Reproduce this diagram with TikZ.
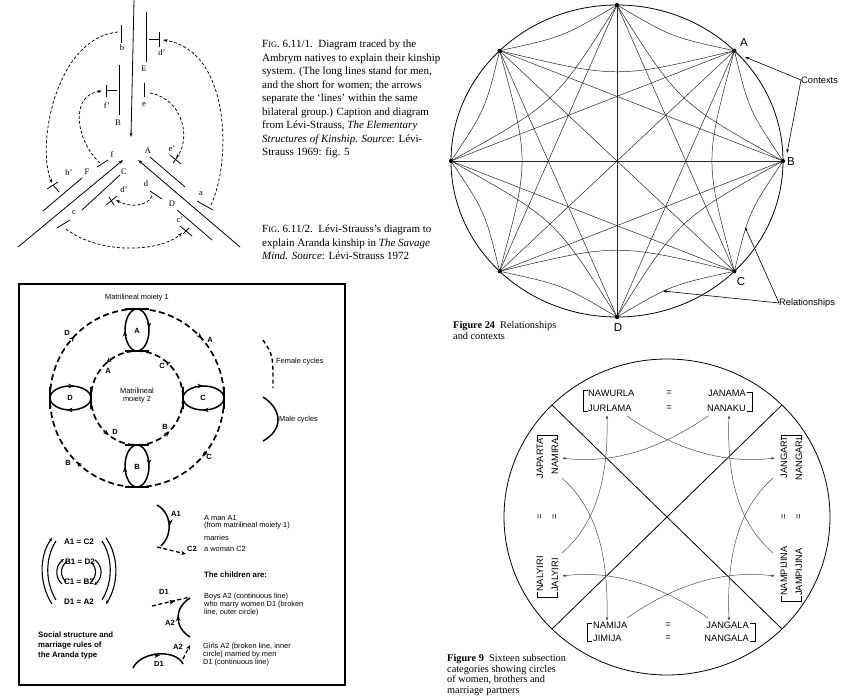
\documentclass[tikz,border=0pt]{standalone}
\usepackage{fontspec}
\setmainfont{Liberation Serif}
\setsansfont{Liberation Sans}
\usetikzlibrary{arrows.meta,calc}
\newcommand{\mycapfont}{\fontsize{11}{13.5}\selectfont}
\newcommand{\mysc}[1]{{\fontsize{8.4}{8}\selectfont #1}}
\begin{document}
\begin{tikzpicture}[x=1pt,y=-1pt,
  amb/.style={line width=0.8pt},
  ambd/.style={line width=0.75pt,dash pattern=on 3pt off 2pt},
  ambtip/.style={-{Stealth[length=4.5pt,width=3pt]}},
  amblab/.style={font=\fontsize{8.5}{9}\selectfont,inner sep=0pt},
  capline/.style={anchor=base west,inner sep=0pt,font=\mycapfont},
  starln/.style={line width=0.5pt,draw=black!85},
  bigl/.style={font=\sffamily\fontsize{11.5}{12}\selectfont,inner sep=0pt},
  ann/.style={font=\sffamily\fontsize{9.3}{10}\selectfont,inner sep=0pt,anchor=west},
  annar/.style={line width=0.6pt,-{Stealth[length=4pt,width=2.8pt]}},
  figcap/.style={anchor=base west,inner sep=0pt,font=\fontsize{10.3}{11}\selectfont},
  bsolid/.style={line width=1.5pt},
  bdash/.style={line width=1.7pt,dash pattern=on 6pt off 3.5pt},
  bdash2/.style={line width=1.3pt,dash pattern=on 4pt off 2.5pt},
  tipseg/.style={line width=1.3pt,-{Stealth[length=5.5pt,width=4.6pt]}},
  blab/.style={font=\sffamily\bfseries\fontsize{7.5}{8}\selectfont,inner sep=0pt},
  btxt/.style={font=\sffamily\fontsize{7.4}{8}\selectfont,inner sep=0pt,anchor=west},
  bbold/.style={font=\sffamily\bfseries\fontsize{7.8}{10}\selectfont,inner sep=0pt,anchor=west},
  eqf/.style={font=\sffamily\bfseries\fontsize{8}{8}\selectfont,inner sep=0pt},
  nm/.style={font=\sffamily\fontsize{9.3}{10}\selectfont,inner sep=0pt},
  relc/.style={line width=0.5pt,draw=black!70,-{Latex[length=3.5pt,width=2.6pt]}},
  brk/.style={line width=0.6pt},
  ptip/.style={-{Stealth[length=3.5pt,width=3pt]}},
]
\useasboundingbox (0,0) rectangle (848,700);
\fill[white] (0,0) rectangle (848,700);

% ================= Ambrym diagram (top left) =================
% top branch
\draw[amb,ambtip] (134,0) -- (131,137);
\draw[amb] (146,12) -- (146,62);
\draw[amb] (121,25) -- (121,43);
\draw[amb] (159,32) -- (159,47);
\draw[amb] (149,39) -- (159,39);
\draw[amb] (119,65) -- (119,115);
\draw[amb] (106,85) -- (106,97);
\draw[amb] (106,90) -- (117,90);
\draw[amb] (144,83) -- (144,97);
% left branch
\draw[amb,ambtip] (18,247) -- (123,160);
\draw[amb] (82,178) -- (43,211);
\draw[amb] (97,167) -- (108,160);
\draw[amb] (47,189) -- (58,182);
\draw[amb] (53,185) -- (59,192);
\draw[amb] (120,175) -- (82,210);
\draw[amb] (106,205) -- (117,196);
\draw[amb] (109,197) -- (114,205);
\draw[amb] (57,228) -- (70,220);
% right branch
\draw[amb,ambtip] (240,247) -- (138,160);
\draw[amb] (150,157) -- (185,187);
\draw[amb] (170,155) -- (181,164);
\draw[amb] (173,163) -- (178,156);
\draw[amb] (197,201) -- (213,210);
\draw[amb] (150,191) -- (162,199);
\draw[amb] (177,210) -- (212,240);
\draw[amb] (180,226) -- (192,236);
\draw[amb] (183,234) -- (189,228);
% dashed arrows
\draw[ambd,ambtip] (118,32) .. controls (56,38) and (36,145) .. (52,183);
\draw[ambd,ambtip] (211,205) .. controls (232,160) and (230,50) .. (163,40);
\draw[ambd,ambtip] (100,163) .. controls (75,140) and (70,95) .. (102,91);
\draw[ambd,ambtip] (150,93) .. controls (185,100) and (190,140) .. (176,158);
\draw[ambd,ambtip] (152,196) .. controls (148,206) and (130,208) .. (116,200);
\draw[ambd,ambtip] (66,229) .. controls (100,255) and (160,252) .. (182,233);
% labels
\node[amblab] (aE) at (144,69) {E};
\node[amblab] (ab) at (122,48) {b};
\node[amblab] (adp) at (162,53) {d'};
\node[amblab] (aB) at (118,123) {B};
\node[amblab] (afp) at (107,106) {f'};
\node[amblab] (ae) at (144,105) {e};
\node[amblab] (aF) at (87,172) {F};
\node[amblab] (af) at (112,155) {f};
\node[amblab] (abp) at (69,173) {b'};
\node[amblab] (aC) at (124,172) {C};
\node[amblab] (adp2) at (124,190) {d'};
\node[amblab] (ac) at (74,213) {c};
\node[amblab] (aA) at (148,151) {A};
\node[amblab] (aep) at (172,149) {e'};
\node[amblab] (aa) at (201,194) {a};
\node[amblab] (ad) at (146,184) {d};
\node[amblab] (aD) at (172,204) {D};
\node[amblab] (acp) at (180,220) {c'};

% ================= captions (top middle) =================
\node[capline] (k1) at (262,48) {F\mysc{IG}. 6.11/1.\ \ Diagram traced by the};
\node[capline] (k2) at (262,61.5) {Ambrym natives to explain their kinship};
\node[capline] (k3) at (262,75) {system. (The long lines stand for men,};
\node[capline] (k4) at (262,88.5) {and the short for women; the arrows};
\node[capline] (k5) at (262,102) {separate the `lines' within the same};
\node[capline] (k6) at (262,115.5) {bilateral group.) Caption and diagram};
\node[capline] (k7) at (262,129) {from Lévi-Strauss, \textit{The Elementary}};
\node[capline] (k8) at (262,142.5) {\textit{Structures of Kinship. Source}: Lévi-};
\node[capline] (k9) at (262,156) {Strauss 1969: fig. 5};
\node[capline] (m1) at (262,233) {F\mysc{IG}. 6.11/2.\ \ Lévi-Strauss's diagram to};
\node[capline] (m2) at (262,246.5) {explain Aranda kinship in \textit{The Savage}};
\node[capline] (m3) at (262,260) {\textit{Mind. Source}: Lévi-Strauss 1972};

% ================= Figure 24 (top right) =================
\coordinate (O24) at (617,161);
\foreach \k in {0,...,7}{
  \coordinate (p\k) at ({617+166*cos(90-45*\k)},{161-156*sin(90-45*\k)});
}
\draw[line width=0.8pt] (O24) ellipse[x radius=166,y radius=156];
\foreach \i in {0,...,7}{
  \pgfmathtruncatemacro\ja{mod(\i+1,8)}
  \pgfmathtruncatemacro\jb{mod(\i+2,8)}
  \pgfmathtruncatemacro\jc{mod(\i+3,8)}
  \coordinate (ma) at ($(p\i)!0.5!(p\ja)$);
  \coordinate (mb) at ($(p\i)!0.5!(p\jb)$);
  \draw[starln] (p\i) .. controls ($(O24)!0.93!(ma)$) .. (p\ja);
  \draw[starln] (p\i) .. controls ($(O24)!0.745!(mb)$) .. (p\jb);
  \draw[starln] (p\i) -- (p\jc);
}
\foreach \i in {0,...,3}{
  \pgfmathtruncatemacro\jd{\i+4}
  \draw[starln] (p\i) -- (p\jd);
}
\foreach \k in {0,...,7}{\fill (p\k) circle[radius=2.1];}
\node[bigl] (lA) at (744,43) {A};
\node[bigl] (lB) at (791,162) {B};
\node[bigl] (lC) at (741,282) {C};
\node[bigl] (lD) at (618,328) {D};
\node[ann] (ctx) at (801,80) {Contexts};
\node[ann] (rel) at (779,303) {Relationships};
\coordinate (tgA) at (745,57);
\coordinate (tgB) at (787,153);
\coordinate (tgR1) at (745,227);
\coordinate (tgR2) at (663,291);
\draw[annar] (ctx.west) -- (tgA);
\draw[annar] (ctx.west) -- (tgB);
\draw[annar] (rel.west) -- (tgR1);
\draw[annar] (rel.west) -- (tgR2);
\node[figcap] (f24a) at (453,328) {\textbf{Figure 24}\ \ Relationships};
\node[figcap] (f24b) at (453,340) {and contexts};

% ================= Aranda box (bottom left) =================
\draw[line width=1.2pt] (19,284) rectangle (345,685);
\coordinate (OA) at (137,398);
\draw[bdash] (OA) ellipse[x radius=87,y radius=89];
\draw[bdash] (OA) ellipse[x radius=46,y radius=47];
% arrowheads on the outer (clockwise) and inner (anticlockwise) cycles
\draw[tipseg] (204.5,454.0) -- (202.7,456.4);
\draw[tipseg] (78.8,464.1) -- (76.6,462.1);
\draw[tipseg] (72.4,338.4) -- (74.4,336.2);
\draw[tipseg] (199.6,336.2) -- (201.6,338.4);
\draw[tipseg] (167.3,433.4) -- (169.5,431.4);
\draw[tipseg] (106.3,433.0) -- (108.5,435.0);
\draw[tipseg] (108.5,361.0) -- (106.3,363.0);
\draw[tipseg] (167.7,363.0) -- (165.5,361.0);
% ovals
\draw[bsolid] (137,330) ellipse[x radius=12,y radius=21];
\draw[bsolid] (137,466) ellipse[x radius=12,y radius=21];
\draw[bsolid] (70.5,398) ellipse[x radius=20.5,y radius=12];
\draw[bsolid] (203.5,398) ellipse[x radius=20.5,y radius=12];
\draw[tipseg] (149,324) -- (149,328);
\draw[tipseg] (125,335) -- (125,331);
\draw[tipseg] (149,461) -- (149,465);
\draw[tipseg] (125,471) -- (125,467);
\draw[tipseg] (70,386) -- (74,386);
\draw[tipseg] (71,410) -- (67,410);
\draw[tipseg] (199,386) -- (203,386);
\draw[tipseg] (207,410) -- (203,410);
\draw[bsolid] (125,309) -- (149,309);
\draw[bsolid] (125,351) -- (149,351);
\draw[bsolid] (125,445) -- (149,445);
\draw[bsolid] (125,487) -- (149,487);
\draw[bsolid] (50,387) -- (50,409);
\draw[bsolid] (91,387) -- (91,409);
\draw[bsolid] (183,387) -- (183,409);
\draw[bsolid] (224,387) -- (224,409);
\node[blab] (oA) at (137,331) {A};
\node[blab] (oB) at (137,467) {B};
\node[blab] (oD) at (70,398) {D};
\node[blab] (oC) at (203,398) {C};
\node[blab] (uD) at (67,333) {D};
\node[blab] (uA) at (210,340) {A};
\node[blab] (uC) at (209,457) {C};
\node[blab] (uB) at (68,463) {B};
\node[blab] (iA) at (108,371) {A};
\node[blab] (iC) at (162,366) {C};
\node[blab] (iD) at (115,432) {D};
\node[blab] (iB) at (165,427) {B};
\node[btxt,anchor=center] (mm1) at (137,298) {Matrilineal moiety 1};
\node[btxt,anchor=center,align=center] (mm2) at (137,396) {Matrilineal\\moiety 2};
% legend
\draw[line width=1.4pt,dash pattern=on 4pt off 3pt] (263,340) .. controls (273,355) .. (273,388);
\node[btxt] (lf) at (276,362) {Female cycles};
\draw[bsolid] (263,397) .. controls (283,410) and (283,430) .. (263,441);
\node[btxt] (lm) at (279,420) {Male cycles};
% A1 marries C2
\draw[bsolid] (157,505) .. controls (173,514) and (172,536) .. (161,546);
\draw[tipseg] (170.3,521) -- (170.4,525);
\draw[bdash2,-{Stealth[length=5pt,width=4pt]}] (157,547) -- (186,554);
\node[blab] (gA1) at (176,514) {A1};
\node[blab] (gC2) at (192,549) {C2};
\node[btxt] (t1) at (204,518) {A man A1};
\node[btxt] (t2) at (204,526) {(from matrilineal moiety 1)};
\node[btxt] (t3) at (204,538) {marries};
\node[btxt] (t4) at (204,549) {a woman C2};
\node[bbold] (t5) at (204,575) {The children are:};
% boys
\draw[bdash2] (152,606) -- (190,597);
\draw[tipseg] (170,602.2) -- (175,601);
\node[blab] (gD1) at (164,592) {D1};
\draw[bsolid] (190,598) .. controls (174,608) and (174,627) .. (190,637);
\draw[tipseg] (178.2,620) -- (178.2,615.5);
\node[blab] (gA2) at (170,623) {A2};
\node[btxt] (t6) at (204,597) {Boys A2 (continuous line)};
\node[btxt] (t7) at (204,605) {who marry women D1 (broken};
\node[btxt] (t8) at (204,613) {line, outer circle)};
% girls
\draw[bdash2,-{Stealth[length=5pt,width=4pt]}] (183,659) -- (190,645);
\node[blab] (gA2b) at (178,647) {A2};
\draw[bsolid] (133,668) .. controls (140,652) and (175,648) .. (183,664);
\draw[tipseg] (155,655.6) -- (160,655.3);
\node[blab] (gD1b) at (159,664) {D1};
\node[btxt] (t9) at (203,647) {Girls A2 (broken line, inner};
\node[btxt] (t10) at (203,655) {circle) married by men};
\node[btxt] (t11) at (203,663) {D1 (continuous line)};
% equations
\node[eqf] (e1) at (79,542) {A1 = C2};
\node[eqf] (e2) at (80,562) {B1 = D2};
\node[eqf] (e3) at (79,582) {C1 = B2};
\node[eqf] (e4) at (79,602) {D1 = A2};
\draw[line width=1.1pt,ptip] (52,604) .. controls (39,584) and (39,556) .. (52,538);
\draw[line width=1.1pt] (56,600) .. controls (45,582) and (45,558) .. (56,541);
\draw[line width=1.1pt,ptip] (106,538) .. controls (119,556) and (119,584) .. (106,604);
\draw[line width=1.1pt] (102,541) .. controls (113,558) and (113,582) .. (102,600);
\draw[line width=1.1pt,ptip] (62,584) .. controls (55,578) and (55,566) .. (64,559);
\draw[line width=1.1pt] (66,582) .. controls (60,576) and (60,568) .. (66,562);
\draw[line width=1.1pt,ptip] (95,560) .. controls (103,566) and (103,578) .. (94,585);
\draw[line width=1.1pt] (91,562) .. controls (97,568) and (97,576) .. (91,582);
\node[bbold] (s1) at (38,635) {Social structure and};
\node[bbold] (s2) at (38,645) {marriage rules of};
\node[bbold] (s3) at (38,655) {the Aranda type};

% ================= Figure 9 (bottom right) =================
\coordinate (O9) at (667,517);
\draw[line width=0.8pt] (O9) ellipse[x radius=163,y radius=158];
\coordinate (q1) at (552,405);
\coordinate (q2) at (782,405);
\coordinate (q3) at (552,629);
\coordinate (q4) at (782,629);
\draw[line width=0.8pt] (q1) -- (q4);
\draw[line width=0.8pt] (q2) -- (q3);
% name labels
\node[nm,anchor=west] (n1) at (588,393) {NAWURLA};
\node[nm] (n1e) at (669,393) {=};
\node[nm,anchor=east] (n2) at (746,393) {JANAMA};
\node[nm,anchor=west] (n3) at (588,408) {JURLAMA};
\node[nm] (n3e) at (669,408) {=};
\node[nm,anchor=east] (n4) at (746,408) {NANAKU};
\node[nm,anchor=west] (n5) at (593,625) {NAMIJA};
\node[nm] (n5e) at (668,625) {=};
\node[nm,anchor=east] (n6) at (749,625) {JANGALA};
\node[nm,anchor=west] (n7) at (593,638) {JIMIJA};
\node[nm] (n7e) at (668,638) {=};
\node[nm,anchor=east] (n8) at (749,638) {NANGALA};
\node[nm,rotate=90,anchor=west] (n9) at (540,592) {NALYIRI};
\node[nm,rotate=90] (n9e) at (540,517) {=};
\node[nm,rotate=90,anchor=east] (n10) at (540,438) {JAPARTA};
\node[nm,rotate=90,anchor=west] (n11) at (555,592) {JALYIRI};
\node[nm,rotate=90] (n11e) at (555,517) {=};
\node[nm,rotate=90,anchor=east] (n12) at (555,438) {NAMIRA};
\node[nm,rotate=90,anchor=west] (n13) at (784,596) {NAMPIJINA};
\node[nm,rotate=90] (n13e) at (784,517) {=};
\node[nm,rotate=90,anchor=east] (n14) at (784,438) {JANGARI};
\node[nm,rotate=90,anchor=west] (n15) at (799,596) {JAMPIJINA};
\node[nm,rotate=90] (n15e) at (799,517) {=};
\node[nm,rotate=90,anchor=east] (n16) at (799,438) {NANGARI};
% brackets
\draw[brk] (588,390) -- (583,390) -- (583,411) -- (588,411);
\draw[brk] (747,392) -- (752,392) -- (752,411) -- (747,411);
\draw[brk] (592,623) -- (587,623) -- (587,641) -- (592,641);
\draw[brk] (750,623) -- (755,623) -- (755,641) -- (750,641);
\draw[brk] (537,440) -- (537,435) -- (557,435) -- (557,440);
\draw[brk] (537,592) -- (537,597) -- (557,597) -- (557,592);
\draw[brk] (781,440) -- (781,435) -- (801,435) -- (801,440);
\draw[brk] (781,596) -- (781,601) -- (801,601) -- (801,596);
% curved relations
\coordinate (r1s) at (627,416); \coordinate (r1e) at (775,458);
\coordinate (r2s) at (708,416); \coordinate (r2e) at (562,458);
\coordinate (r3s) at (562,553); \coordinate (r3e) at (607,415);
\coordinate (r4s) at (562,478); \coordinate (r4e) at (607,621);
\coordinate (r5s) at (773,553); \coordinate (r5e) at (729,415);
\coordinate (r6s) at (773,478); \coordinate (r6e) at (729,621);
\coordinate (r7s) at (627,618); \coordinate (r7e) at (775,576);
\coordinate (r8s) at (708,618); \coordinate (r8e) at (562,576);
\draw[relc] (r1s) .. controls (690,460) and (740,462) .. (r1e);
\draw[relc] (r2s) .. controls (645,460) and (595,462) .. (r2e);
\draw[relc] (r3s) .. controls (600,520) and (608,470) .. (r3e);
\draw[relc] (r4s) .. controls (600,512) and (608,562) .. (r4e);
\draw[relc] (r5s) .. controls (735,520) and (727,470) .. (r5e);
\draw[relc] (r6s) .. controls (735,512) and (727,562) .. (r6e);
\draw[relc] (r7s) .. controls (690,574) and (740,572) .. (r7e);
\draw[relc] (r8s) .. controls (645,574) and (595,572) .. (r8e);
% caption
\node[figcap] (f9a) at (447,661) {\textbf{Figure 9}\ \ Sixteen subsection};
\node[figcap] (f9b) at (447,672) {categories showing circles};
\node[figcap] (f9c) at (447,682.5) {of women, brothers and};
\node[figcap] (f9d) at (447,693) {marriage partners};
\end{tikzpicture}
\end{document}
